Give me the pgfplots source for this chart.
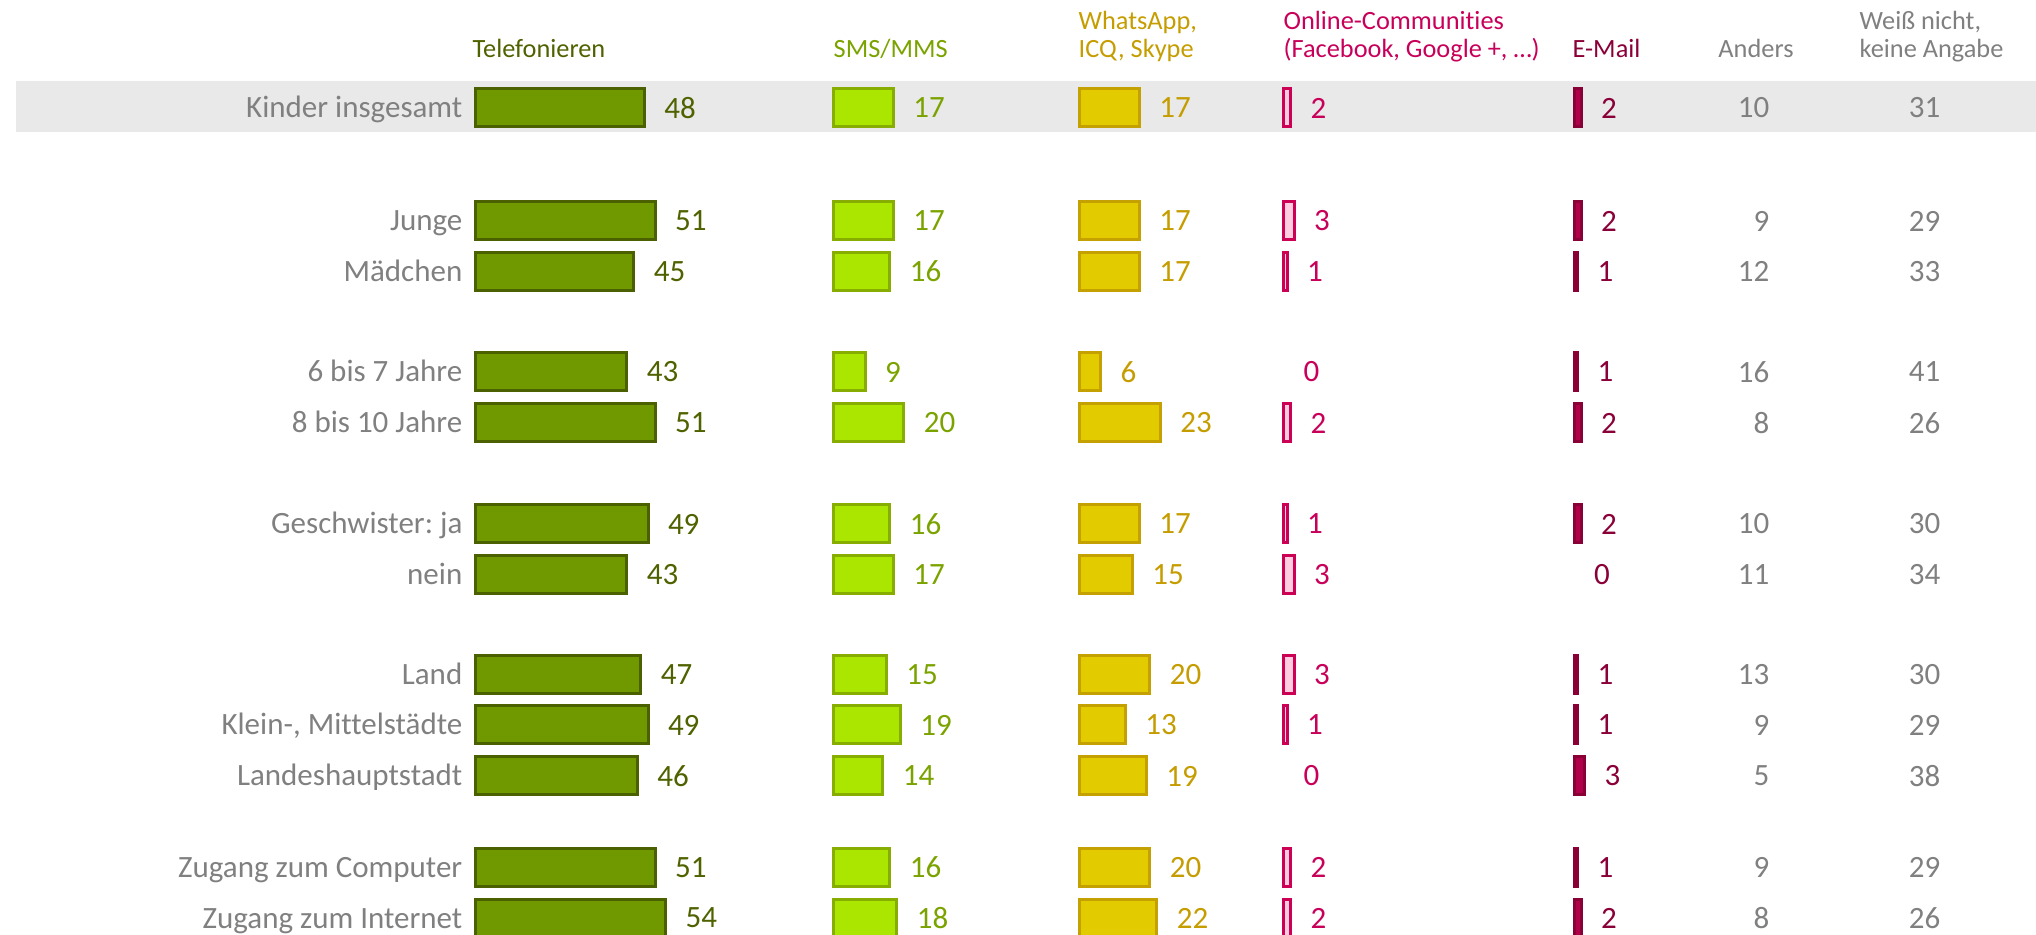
\documentclass[border=0pt]{standalone}
\usepackage{fontspec}
\setmainfont{Carlito}[Ligatures=NoCommon]
\usepackage{pgfplots}
\usepackage{pgfplotstable}
\pgfplotsset{compat=1.18}
\frenchspacing

\definecolor{telFill}{HTML}{709900}
\definecolor{telDraw}{HTML}{4B6100}
\definecolor{telText}{HTML}{4F6200}
\definecolor{smsFill}{HTML}{AAE600}
\definecolor{smsDraw}{HTML}{86AD00}
\definecolor{smsText}{HTML}{7BA300}
\definecolor{waFill}{HTML}{E2CC00}
\definecolor{waDraw}{HTML}{C4A000}
\definecolor{waText}{HTML}{C59D00}
\definecolor{ocFill}{HTML}{FFCCE0}
\definecolor{ocDraw}{HTML}{CC0055}
\definecolor{ocText}{HTML}{C8005A}
\definecolor{emFill}{HTML}{B0004A}
\definecolor{emDraw}{HTML}{880036}
\definecolor{emText}{HTML}{8A0038}
\definecolor{grayText}{HTML}{808080}
\definecolor{bandGray}{HTML}{E9E9E9}

\newcommand\valfont{\fontsize{9.3}{11}\selectfont}
\newcommand\hdfont{\fontsize{7.9}{9.5}\selectfont}

\pgfplotstableread{
y     tel sms wa oc em and wn
108   48  17  17 2  2  10  31
221   51  17  17 3  2  9   29
271.5 45  16  17 1  1  12  33
372   43  9   6  0  1  16  41
423   51  20  23 2  2  8   26
524   49  16  17 1  2  10  30
574.5 43  17  15 3  0  11  34
675   47  15  20 3  1  13  30
725   49  19  13 1  1  9   29
776   46  14  19 0  3  5   38
867.5 51  16  20 2  1  9   29
918   54  18  22 2  2  8   26
}\data

\pgfplotsset{
  base/.style={y=0.3pt, ymin=0, ymax=935, y dir=reverse, hide axis,
    enlargelimits=false, at={(0,0)}, anchor=south west},
  bars/.style={base, x=1.056pt, clip=true},
  barstyle/.style 2 args={xbar, bar width=38, fill=#1, draw=#2, line width=0.9pt},
  vals/.style={draw=none, mark=none, nodes near coords, point meta=explicit symbolic,
    every node near coord/.append style={anchor=west, inner sep=0pt, xshift=5.8pt,
      font=\valfont, text=#1}},
}
\tikzset{
  rowlab/.style={anchor=base east, inner sep=0pt, yshift=-3pt, font=\valfont, text=grayText},
  hd/.style={anchor=base west, inner sep=0pt, font=\hdfont, text=#1},
}

\begin{document}
\begin{tikzpicture}
\useasboundingbox (0,0) rectangle (610.8pt,280.5pt);

% main axis in pixel coordinates: background band, texts, text-only columns
\begin{axis}[base, x=0.3pt, xmin=0, xmax=2036, clip=false]
  \fill[bandGray] (axis cs:16,81) rectangle (axis cs:2036,132);
  % headers
  \node[hd=telText] at (axis cs:472,58) {Telefonieren};
  \node[hd=smsText] at (axis cs:833,58) {SMS/MMS};
  \node[hd=waText] at (axis cs:1078,30) {WhatsApp,};
  \node[hd=waText] at (axis cs:1078,58) {ICQ, Skype};
  \node[hd=ocText] at (axis cs:1283,30) {Online-Communities};
  \node[hd=ocText] at (axis cs:1283,58) {(Facebook, Google +, …)};
  \node[hd=emText] at (axis cs:1572,58) {E-Mail};
  \node[anchor=base, inner sep=0pt, font=\hdfont, text=grayText] at (axis cs:1756,58) {Anders};
  \node[hd=grayText] at (axis cs:1859,30) {Weiß nicht,};
  \node[hd=grayText] at (axis cs:1859,58) {keine Angabe};
  % row labels
  \node[rowlab] at (axis cs:463,108) {Kinder insgesamt};
  \node[rowlab] at (axis cs:463,221) {Junge};
  \node[rowlab] at (axis cs:463,271.5) {Mädchen};
  \node[rowlab] at (axis cs:463,372) {6 bis 7 Jahre};
  \node[rowlab] at (axis cs:463,423) {8 bis 10 Jahre};
  \node[rowlab] at (axis cs:463,524) {Geschwister: ja};
  \node[rowlab] at (axis cs:463,574.5) {nein};
  \node[rowlab] at (axis cs:463,675) {Land};
  \node[rowlab] at (axis cs:463,725) {Klein-, Mittelstädte};
  \node[rowlab] at (axis cs:463,776) {Landeshauptstadt};
  \node[rowlab] at (axis cs:463,867.5) {Zugang zum Computer};
  \node[rowlab] at (axis cs:463,918) {Zugang zum Internet};
  % text-only columns
  \addplot[draw=none, mark=none, nodes near coords, point meta=explicit symbolic,
    every node near coord/.append style={anchor=east, inner sep=0pt, font=\valfont, text=grayText}]
    table[x expr=1770, y=y, meta=and] {\data};
  \addplot[draw=none, mark=none, nodes near coords, point meta=explicit symbolic,
    every node near coord/.append style={anchor=east, inner sep=0pt, font=\valfont, text=grayText}]
    table[x expr=1941, y=y, meta=wn] {\data};
\end{axis}

% Telefonieren
\begin{axis}[bars, xmin=-135.09, xmax=443.32]
  \addplot[barstyle={telFill}{telDraw}] table[x=tel, y=y] {\data};
  \addplot[vals=telText] table[x=tel, y=y, meta=tel] {\data};
\end{axis}
% SMS/MMS
\begin{axis}[bars, xmin=-236.79, xmax=341.62]
  \addplot[barstyle={smsFill}{smsDraw}] table[x=sms, y=y] {\data};
  \addplot[vals=smsText] table[x=sms, y=y, meta=sms] {\data};
\end{axis}
% WhatsApp
\begin{axis}[bars, xmin=-306.68, xmax=271.73]
  \addplot[barstyle={waFill}{waDraw}] table[x=wa, y=y] {\data};
  \addplot[vals=waText] table[x=wa, y=y, meta=wa] {\data};
\end{axis}
% Online-Communities
\begin{axis}[bars, xmin=-364.63, xmax=213.78]
  \addplot[barstyle={ocFill}{ocDraw}, restrict x to domain=0.5:200] table[x=oc, y=y] {\data};
  \addplot[vals=ocText] table[x=oc, y=y, meta=oc] {\data};
\end{axis}
% E-Mail
\begin{axis}[bars, xmin=-447.16, xmax=131.25]
  \addplot[barstyle={emFill}{emDraw}, restrict x to domain=0.5:200] table[x=em, y=y] {\data};
  \addplot[vals=emText] table[x=em, y=y, meta=em] {\data};
\end{axis}
\end{tikzpicture}
\end{document}
